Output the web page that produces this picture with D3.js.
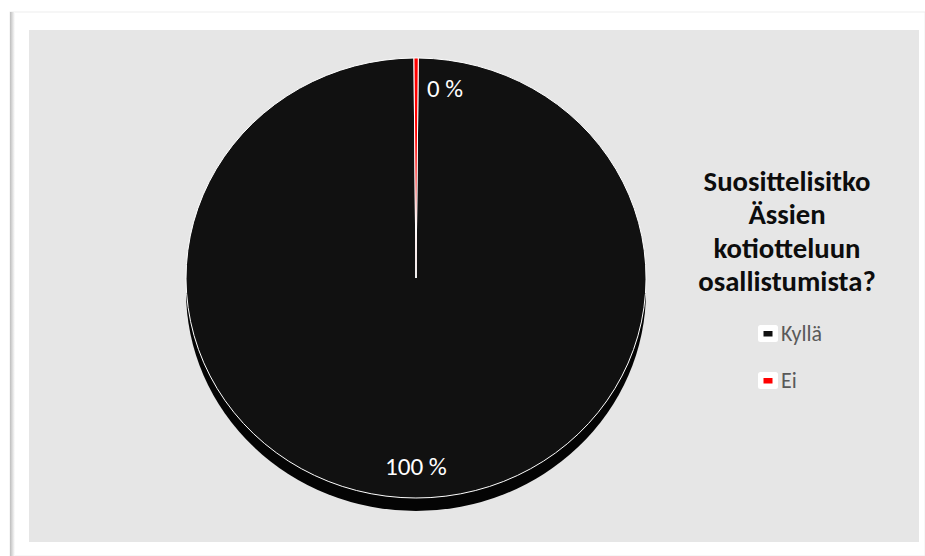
<!DOCTYPE html>
<html>
<head>
<meta charset="utf-8">
<script src="https://cdn.jsdelivr.net/npm/d3@7"></script>
<style>
  html, body { margin: 0; padding: 0; background: #ffffff; }
  svg { display: block; }
</style>
</head>
<body>
<svg id="chart" width="925" height="556"></svg>
<script>
// ---- data ----
const categories = ["Kyllä", "Ei"];
const values = [99.7, 0.3];
const titleLines = ["Suosittelisitko", "Ässien", "kotiotteluun", "osallistumista?"];

// ---- setup ----
const W = 925, H = 556;
const svg = d3.select("#chart");
const FONT = "Carlito, Calibri, Lato, 'Open Sans', sans-serif";

const defs = svg.append("defs");
const shadow = defs.append("linearGradient").attr("id", "lshadow")
  .attr("x1", "0").attr("x2", "1").attr("y1", "0").attr("y2", "0");
shadow.append("stop").attr("offset", "0").attr("stop-color", "#bdbdbd");
shadow.append("stop").attr("offset", "1").attr("stop-color", "#ffffff");

// paper frame
svg.append("rect").attr("x", 10).attr("y", 12).attr("width", W - 10).attr("height", H - 12)
  .attr("fill", "#ffffff").attr("stroke", "#eeeeee").attr("stroke-width", 1);
svg.append("rect").attr("x", 10).attr("y", 12).attr("width", 5).attr("height", H - 12)
  .attr("fill", "url(#lshadow)");

// chart area
svg.append("rect").attr("x", 29).attr("y", 30).attr("width", 890).attr("height", 512)
  .attr("fill", "#e6e6e6");

// ---- pie ----
const cx = 416, cy = 278, rx = 230, ry = 220, depth = 13;
const color = d3.scaleOrdinal().domain(categories).range(["#111111", "#ff0000"]);

const rot = 0.01;
const pie = d3.pie().sort(null).value(d => d.value)
  .startAngle(rot).endAngle(2 * Math.PI + rot);
const pieData = categories.map((c, i) => ({ cat: c, value: values[i] }));
const arcs = pie(pieData);
const arc = d3.arc().innerRadius(0).outerRadius(rx);

// side (depth)
const sideG = svg.append("g");
sideG.append("ellipse").attr("cx", cx).attr("cy", cy + depth).attr("rx", rx).attr("ry", ry)
  .attr("fill", "#040404");
sideG.append("rect").attr("x", cx - rx).attr("y", cy).attr("width", 2 * rx).attr("height", depth)
  .attr("fill", "#040404");

// top face
const faceG = svg.append("g").attr("transform", `translate(${cx},${cy}) scale(1,${ry / rx})`);
faceG.selectAll("path.slice").data(arcs).enter().append("path")
  .attr("class", "slice")
  .attr("d", arc)
  .attr("fill", d => color(d.data.cat))
  .attr("stroke", "#ffffff")
  .attr("stroke-width", 1)
  .attr("stroke-linejoin", "round")
  .attr("vector-effect", "non-scaling-stroke");

// helper to fit text width
function fitWidth(sel, target) {
  const fs = parseFloat(sel.attr("font-size"));
  const w = sel.node().getComputedTextLength();
  sel.attr("font-size", fs * target / w);
  return fs * target / w;
}

// data labels
const pct = v => Math.round(v) + " %";
const labelG = svg.append("g");
arcs.forEach((d, i) => {
  const mid = (d.startAngle + d.endAngle) / 2;
  const small = (d.endAngle - d.startAngle) < 0.2;
  const f = 0.86;
  let x = cx + Math.sin(mid) * rx * f;
  let y = cy - Math.cos(mid) * ry * f;
  if (small) x += 29;
  const t = labelG.append("text")
    .attr("x", x).attr("y", y + 8)
    .attr("text-anchor", "middle")
    .attr("font-family", FONT)
    .attr("font-size", 24)
    .attr("fill", "#ffffff")
    .text(pct(d.data.value));
  fitWidth(t, small ? 36 : 62);
});

// ---- legend ----
const legendX = 787;
const titleY = d3.scalePoint().domain(titleLines).range([191, 291]);
const titleG = svg.append("g");
let titleSize = null;
titleLines.forEach((line, i) => {
  const t = titleG.append("text")
    .attr("x", legendX).attr("y", titleY(line))
    .attr("text-anchor", "middle")
    .attr("font-family", FONT)
    .attr("font-weight", "bold")
    .attr("font-size", titleSize || 28)
    .attr("fill", "#0d0d0d")
    .text(line);
  if (i === 0) titleSize = fitWidth(t, 167);
});

const legY = d3.scalePoint().domain(categories).range([341, 388]);
const legG = svg.append("g");
let legSize = null;
categories.forEach((c, i) => {
  const y = legY(c);
  legG.append("rect").attr("x", 758).attr("y", y - 16).attr("width", 20).attr("height", 17)
    .attr("rx", 2.5).attr("fill", "#ffffff");
  legG.append("rect").attr("x", 763.5).attr("y", y - 10).attr("width", 9).attr("height", 5.5)
    .attr("fill", color(c));
  const t = legG.append("text")
    .attr("x", 781).attr("y", y)
    .attr("font-family", FONT)
    .attr("font-size", legSize || 20)
    .attr("fill", "#595959")
    .text(c);
  if (i === 0) legSize = fitWidth(t, 41);
});
</script>
</body>
</html>
